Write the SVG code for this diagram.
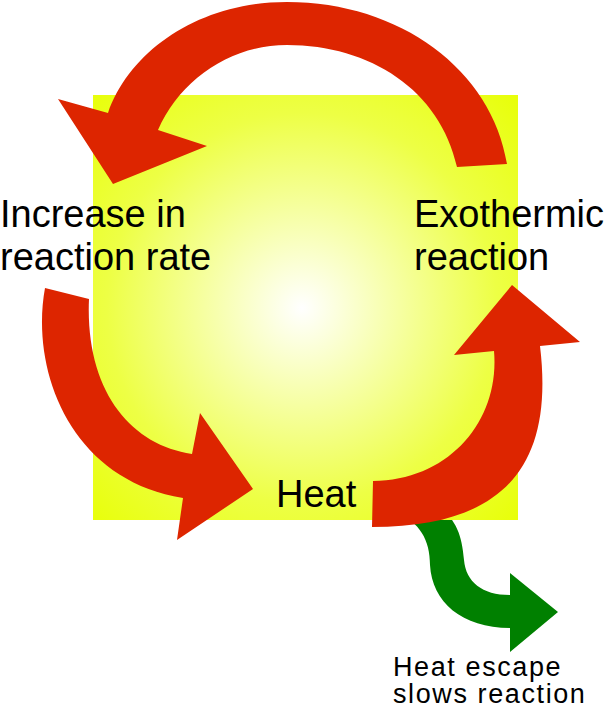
<svg xmlns="http://www.w3.org/2000/svg" width="607" height="709" viewBox="0 0 607 709">
<defs>
<radialGradient id="glow" cx="302" cy="308" r="300" gradientUnits="userSpaceOnUse">
<stop offset="0" stop-color="#ffffff"/>
<stop offset="0.65" stop-color="#edff45"/>
<stop offset="1" stop-color="#e8ff0a"/>
</radialGradient>
<style>
.red{fill:#dd2500;}
.green{fill:#008000;}
.big{font-family:"Liberation Sans",Arial,sans-serif;font-size:38px;fill:#000;}
.small{font-family:"Liberation Sans",Arial,sans-serif;font-size:27px;fill:#000;letter-spacing:1.6px;}
</style>
</defs>
<g id="connectors">
<path id="escape-arrow" class="green" d="M395,512 C420,522 430,540 430,565 C432,602 462,628 510,628 L510,652 L558,612 L510,573 L510,595 C482,595 466,582 464,560 C462,535 456,520 440,508 Z"/>
</g>
<g id="reactor">
<rect x="93" y="95" width="425" height="425" fill="url(#glow)"/>
</g>
<g id="cycle-arrows">
<path id="arrow-top" class="red" d="M507,164 C492,70 400,2 287,2 C200,2 130,50 108,113 L58,99 L113,184 L207,146 L158,130 C180,80 230,45 287,45 C370,45 440,90 457,167 Z"/>
<path id="arrow-left" class="red" d="M45,288 C30,370 70,480 183,498 L177,540 L253,489 L200,413 L192,454 C130,445 85,390 89,299 Z"/>
<path id="arrow-right" class="red" d="M373,481 C450,480 500,420 494,351 L454,355 L512,285 L580,342 L540,346 C555,470 500,527 372,527 Z"/>
</g>
<g id="node-increase">
<text class="big" x="0" y="227">Increase in</text>
<text class="big" x="0" y="270">reaction rate</text>
</g>
<g id="node-exothermic">
<text class="big" x="414" y="227">Exothermic</text>
<text class="big" x="414" y="270">reaction</text>
</g>
<g id="node-heat">
<text class="big" x="276" y="507">Heat</text>
</g>
<g id="node-escape">
<text class="small" x="393" y="676">Heat escape</text>
<text class="small" x="393" y="703">slows reaction</text>
</g>
</svg>
